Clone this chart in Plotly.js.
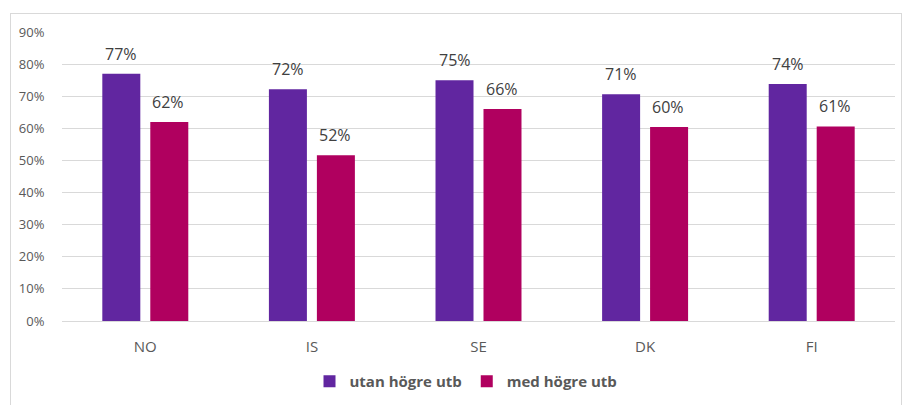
<!DOCTYPE html>
<html>
<head>
<meta charset="utf-8">
<script src="https://cdn.plot.ly/plotly-3.0.1.min.js"></script>
<style>
html,body{margin:0;padding:0;background:#fff;}
#wrap{position:relative;width:903px;height:405px;}
#chart{width:903px;height:405px;}
#frame{position:absolute;left:10px;top:13px;width:892px;height:400px;border:1px solid #d9d9d9;pointer-events:none;box-sizing:border-box;}
</style>
</head>
<body>
<div id="wrap"><div id="chart"></div><div id="frame"></div></div>
<script>
const categories = ["NO", "IS", "SE", "DK", "FI"];
const utanHogreUtb = [0.770, 0.722, 0.750, 0.706, 0.738];
const medHogreUtb = [0.620, 0.516, 0.660, 0.604, 0.606];
const seriesNames = ["utan högre utb", "med högre utb"];
const yTickVals = [0, 0.1, 0.2, 0.3, 0.4, 0.5, 0.6, 0.7, 0.8, 0.9];

const colors = ["#6126A0", "#B0005F"];
const fontFam = "Open Sans, Liberation Sans, sans-serif";

const traces = [utanHogreUtb, medHogreUtb].map((vals, i) => ({
  type: "bar",
  name: seriesNames[i],
  x: categories,
  y: vals,
  marker: {color: colors[i]},
  hoverinfo: "none"
}));

const annotations = [];
[utanHogreUtb, medHogreUtb].forEach((vals, i) => {
  vals.forEach((v, j) => {
    annotations.push({
      x: categories[j], y: v, xref: "x", yref: "y",
      text: Math.round(v * 100) + "%",
      showarrow: false, yanchor: "bottom",
      xshift: i === 0 ? -24 : 23, yshift: 7,
      font: {family: fontFam, size: 16, color: "#404040"}
    });
  });
});

const layout = {
  width: 903, height: 405,
  margin: {l: 62, r: 8, t: 32, b: 83},
  paper_bgcolor: "#fff", plot_bgcolor: "#fff",
  barmode: "group",
  bargap: 0.424,
  bargroupgap: 0.208,
  showlegend: true,
  legend: {orientation: "h", x: 0.485, xanchor: "center", y: -0.205, yanchor: "middle",
           font: {family: fontFam, size: 15, color: "#595959", weight: "bold"},
           traceorder: "normal"},
  xaxis: {
    type: "category",
    showgrid: false, zeroline: false, showline: false,
    ticks: "outside", ticklen: 12, tickcolor: "rgba(0,0,0,0)",
    tickfont: {family: fontFam, size: 15, color: "#595959"}
  },
  yaxis: {
    range: [0, 0.9],
    tickvals: yTickVals,
    tickformat: ".0%",
    showgrid: true, gridcolor: "#d9d9d9", gridwidth: 1,
    zeroline: true, zerolinecolor: "#d9d9d9", zerolinewidth: 1,
    ticks: "outside", ticklen: 14, tickcolor: "rgba(0,0,0,0)",
    tickfont: {family: fontFam, size: 13, color: "#595959"}
  },
  annotations: annotations
};

Plotly.newPlot("chart", traces, layout, {displayModeBar: false, staticPlot: true});
</script>
</body>
</html>
